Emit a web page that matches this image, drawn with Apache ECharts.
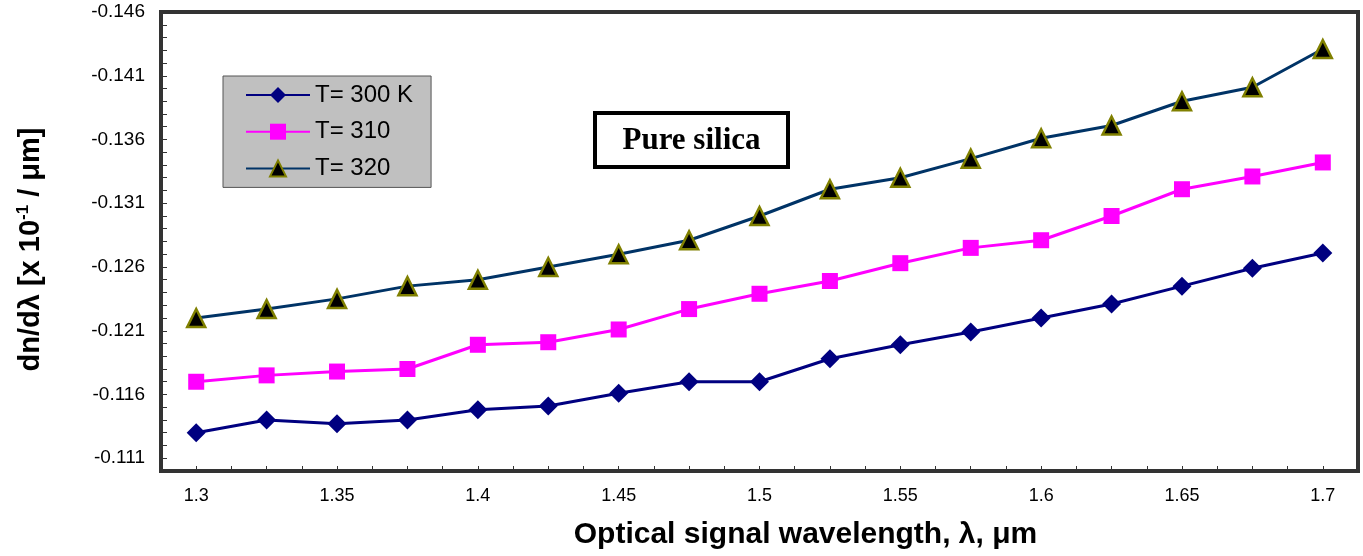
<!DOCTYPE html>
<html><head><meta charset="utf-8">
<script src="https://cdn.jsdelivr.net/npm/echarts@6/dist/echarts.min.js"></script>
<style>html,body{margin:0;padding:0;background:#fff}#c{width:1363px;height:556px}</style>
</head><body><div id="c"></div>
<script>
const wavelengths = [1.3, 1.325, 1.35, 1.375, 1.4, 1.425, 1.45, 1.475, 1.5, 1.525, 1.55, 1.575, 1.6, 1.625, 1.65, 1.675, 1.7];
const t300 = [-0.1130, -0.1140, -0.1137, -0.1140, -0.1148, -0.1151, -0.1161, -0.1170, -0.1170, -0.1188, -0.1199, -0.1209, -0.1220, -0.1231, -0.1245, -0.1259, -0.1271];
const t310 = [-0.1170, -0.1175, -0.1178, -0.1180, -0.1199, -0.1201, -0.1211, -0.1227, -0.1239, -0.1249, -0.1263, -0.1275, -0.1281, -0.1300, -0.1321, -0.1331, -0.1342];
const t320 = [-0.1220, -0.1227, -0.1235, -0.1245, -0.1250, -0.1260, -0.1270, -0.1281, -0.1300, -0.1321, -0.1330, -0.1345, -0.1361, -0.1371, -0.1390, -0.1401, -0.1431];
const seriesNames = ['T= 300 K', 'T= 310', 'T= 320'];
const xLabelTicks = [1.3, 1.35, 1.4, 1.45, 1.5, 1.55, 1.6, 1.65, 1.7];
const yLabelTicks = [-0.146, -0.141, -0.136, -0.131, -0.126, -0.121, -0.116, -0.111];
const annotationText = 'Pure silica';

const pairs = arr => arr.map((v, i) => [wavelengths[i], v]);
const near = (v, list) => list.find(t => Math.abs(t - v) < 1e-6);

const chart = echarts.init(document.getElementById('c'), null, {renderer: 'canvas'});
chart.setOption({
  animation: false,
  backgroundColor: '#ffffff',
  grid: {left: 161, right: 5, top: 12, bottom: 85, show: true, borderColor: '#333333', borderWidth: 4, backgroundColor: '#ffffff'},
  xAxis: {
    type: 'value', min: 1.2875, max: 1.7125, interval: 0.0125,
    axisLine: {show: false},
    axisTick: {show: true, inside: true, length: 5, lineStyle: {color: '#333', width: 1}},
    splitLine: {show: false},
    axisLabel: {
      margin: 16, color: '#000', fontSize: 18, fontFamily: 'Liberation Sans, Arial',
      formatter: v => { const t = near(v, xLabelTicks); return t === undefined ? '' : String(t); }
    },
    name: 'Optical signal wavelength, λ, μm', nameLocation: 'middle', nameGap: 49,
    nameTextStyle: {fontSize: 30, fontWeight: 'bold', color: '#000', fontFamily: 'Liberation Sans, Arial', padding: [0, 0, 0, 92]}
  },
  yAxis: {
    type: 'value', inverse: true, min: -0.146, max: -0.110, interval: 0.001,
    axisLine: {show: false},
    axisTick: {show: true, inside: true, length: 6, lineStyle: {color: '#333', width: 1}},
    splitLine: {show: false},
    axisLabel: {
      margin: 16, color: '#000', fontSize: 19, fontFamily: 'Liberation Sans, Arial',
      formatter: v => { const t = near(v, yLabelTicks); return t === undefined ? '' : t.toFixed(3); }
    },
    name: '{b|dn/dλ [x 10}{s|-1}{b| / μm]}', nameLocation: 'middle', nameGap: 114,
    nameTextStyle: {
      padding: [0, 16, 0, 0],
      rich: {
        b: {fontSize: 29, fontWeight: 'bold', color: '#000', fontFamily: 'Liberation Sans, Arial', lineHeight: 32},
        s: {fontSize: 17, fontWeight: 'bold', color: '#000', fontFamily: 'Liberation Sans, Arial', verticalAlign: 'top', lineHeight: 32, padding: [0, 0, 12, 0]}
      }
    }
  },
  legend: {
    orient: 'vertical', left: 223, top: 76,
    backgroundColor: '#c0c0c0', borderColor: '#555', borderWidth: 1,
    padding: [7, 18, 7, 22],
    itemWidth: 64, itemHeight: 20, itemGap: 12.7, itemTextGap: 7,
    textStyle: {fontSize: 24, lineHeight: 24, color: '#000', fontFamily: 'Liberation Sans, Arial'},
    data: seriesNames
  },
  graphic: [{
    type: 'group', left: 593, top: 111,
    children: [
      {type: 'rect', shape: {x: 0, y: 0, width: 193, height: 54}, style: {fill: '#fff', stroke: '#000', lineWidth: 4}},
      {type: 'text', x: 96.5, y: 28, style: {text: annotationText, fill: '#000', font: 'bold 31px "Liberation Serif", "Times New Roman", serif', align: 'center', verticalAlign: 'middle'}}
    ]
  }],
  series: [
    {name: seriesNames[0], type: 'line', data: pairs(t300), symbol: 'diamond', symbolSize: 19,
     lineStyle: {color: '#000080', width: 3}, itemStyle: {color: '#000080'}},
    {name: seriesNames[1], type: 'line', data: pairs(t310), symbol: 'rect', symbolSize: 16,
     lineStyle: {color: '#ff00ff', width: 3}, itemStyle: {color: '#ff00ff'}},
    {name: seriesNames[2], type: 'line', data: pairs(t320), symbol: 'triangle', symbolSize: 18,
     lineStyle: {color: '#003366', width: 3}, itemStyle: {color: '#000000', borderColor: '#808000', borderWidth: 2.5}}
  ]
});
</script>
</body></html>
